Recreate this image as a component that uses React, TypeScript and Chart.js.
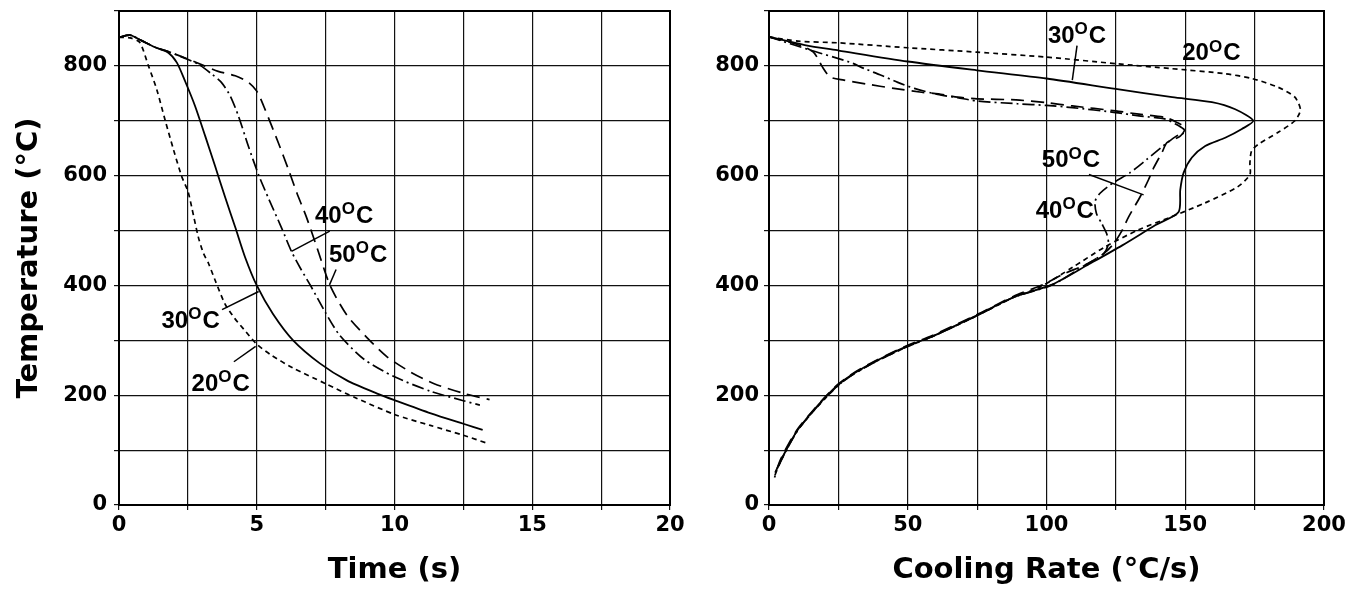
import React, { useEffect, useRef } from 'react';
import { Chart, registerables } from 'chart.js';

Chart.register(...registerables);

// ---------- Left panel: Time (s) vs Temperature (°C) ----------
const time20 = [0, 0.4, 0.75, 1.07, 1.37, 1.67, 1.98, 2.28, 2.5, 2.65, 2.88, 3.07, 3.25, 3.5, 3.85, 4.2, 4.6, 5.0, 5.5, 6.3, 7.5, 8.6, 10.0, 11.3, 12.5, 13.4];
const tempT20 = [852, 851, 843, 800, 757, 702, 647, 598, 572, 540, 488, 458, 440, 408, 366, 340, 316, 293, 274, 250, 221, 195, 165, 145, 127, 112];

const time30 = [0, 0.4, 0.82, 1.31, 1.79, 2.1, 2.4, 2.76, 3.13, 3.49, 3.85, 4.22, 4.58, 5.0, 5.59, 6.32, 7.29, 8.27, 9.37, 10.0, 11.32, 12.5, 13.2];
const tempT30 = [852, 856, 846, 834, 824, 806, 772, 727, 672, 617, 561, 506, 451, 400, 348, 300, 258, 227, 203, 191, 167, 148, 137];

const time40 = [0, 0.4, 0.82, 1.31, 1.79, 2.34, 2.88, 3.37, 3.73, 4.04, 4.34, 4.7, 5.07, 5.45, 5.9, 6.26, 6.6, 6.95, 7.5, 8.0, 8.88, 9.98, 11.32, 12.5, 13.1];
const tempT40 = [852, 856, 846, 834, 826, 815, 803, 785, 769, 745, 708, 653, 601, 556, 505, 462, 430, 400, 350, 310, 266, 234, 207, 190, 182];

const time50 = [0, 0.4, 0.82, 1.31, 1.79, 2.52, 3.1, 3.6, 4.22, 4.7, 5.0, 5.25, 5.79, 6.16, 6.46, 6.8, 7.2, 7.66, 8.27, 9.0, 9.73, 10.59, 11.44, 12.54, 13.45];
const tempT50 = [852, 856, 846, 834, 826, 812, 800, 790, 782, 770, 754, 727, 659, 610, 568, 525, 467, 400, 346, 305, 270, 242, 221, 203, 192];

// ---------- Right panel: Cooling Rate (°C/s) vs Temperature (°C) ----------
const rate20 = [0, 10.5, 25, 50, 75, 100, 125, 145, 164, 174, 183.5, 189.5, 191.5, 189.5, 183.5, 176.3, 173.9, 173.3, 173.3, 169, 157, 145, 133, 121, 109.4, 97.3, 88, 75, 58, 50, 38, 30, 25, 20, 15, 10, 6.5, 3.5, 2];
const tempR20 = [853, 845, 842, 833, 825, 816, 804, 795, 786, 777, 761, 743, 720, 700, 679, 657, 645, 623, 602, 580, 550, 525, 501, 470, 433, 396, 378, 345, 305, 289, 260, 237, 218, 193, 165, 134, 103, 72, 52];

const rate30 = [0, 12.9, 25.1, 50, 74.9, 100, 124.9, 145.3, 159.6, 168, 174.5, 170.4, 164.4, 157.2, 152.4, 149.4, 148.2, 147.6, 139.3, 127.3, 115.4, 102.2, 88.3, 75.1, 58.4, 50, 38, 29.7, 24.9, 20.1, 15.3, 10.5, 6.9, 3.9, 2.2];
const tempR30 = [853, 838, 828, 808, 792, 777, 758, 743, 734, 721, 700, 685, 669, 654, 633, 605, 574, 534, 510, 473, 439, 402, 379, 346, 306, 290, 261, 237, 219, 195, 168, 138, 107, 77, 59];

const rate40 = [0, 15.3, 29, 34.4, 40.4, 46.4, 52.4, 60.8, 68, 75, 89.5, 100, 109.3, 124.9, 133.3, 142.9, 146.5, 149.4, 150, 146.8, 142, 136, 130, 124, 119.3, 117.5, 118, 119.9, 121.7, 122.3, 120.6, 114.6, 102, 88, 75, 58, 50, 38, 29.7, 24.9, 20.1, 15.3, 10.5, 6.9, 3.9, 2.2];
const tempR40 = [853, 828, 807, 795, 783, 770, 759, 748, 742, 736, 731, 728, 724, 715, 709, 703, 694, 685, 679, 672, 654, 629, 605, 587, 568, 553, 531, 513, 494, 476, 458, 439, 401, 378, 345, 305, 289, 260, 236, 218, 194, 167, 137, 106, 76, 57];

const rate50 = [0, 12, 16, 18, 19, 22, 27, 35, 45, 55, 61, 68, 75, 89, 100, 109.3, 124.9, 133.3, 142.9, 147, 150, 148.2, 143.4, 141.6, 138.6, 136.8, 133.8, 129.6, 127.2, 124.2, 120.6, 114.6, 106.2, 99, 88, 75, 58, 50, 38, 29.7, 24.9, 20.1, 15.3, 10.5, 6.9, 3.9, 2];
const tempR50 = [853, 836, 825, 810, 800, 780, 774, 767, 759, 752, 749, 743, 740, 738, 733, 727, 718, 712, 706, 697, 687, 672, 660, 642, 614, 593, 562, 525, 500, 476, 458, 439, 421, 402, 380, 347, 307, 291, 262, 238, 220, 196, 169, 140, 110, 80, 50];

// ---------- Curve labels (bath temperatures) ----------
const leftLabelText = ['20', '30', '40', '50'];
const leftLabelX = [3.69, 2.6, 8.17, 8.68];
const leftLabelY = [220, 335, 526, 454];
const leftLeaderX1 = [4.17, 3.74, 6.26, 7.88];
const leftLeaderY1 = [261, 356, 462, 429];
const leftLeaderX2 = [4.96, 5.07, 7.65, 7.64];
const leftLeaderY2 = [289, 389, 499, 401];

const rightLabelText = ['20', '30', '40', '50'];
const rightLabelX = [159.4, 111, 106.6, 108.8];
const rightLabelY = [822, 853, 535, 627];
const rightLeaderX1 = [NaN, 111, NaN, 115.3];
const rightLeaderY1 = [NaN, 837, NaN, 602];
const rightLeaderX2 = [NaN, 109.3, NaN, 135];
const rightLeaderY2 = [NaN, 774, NaN, 565];

// ---------- Axis settings ----------
const tempMax = 900;
const tempStep = 100;
const tempLabelEvery = 200;
const timeMax = 20;
const timeStep = 2.5;
const timeLabelEvery = 5;
const rateMax = 200;
const rateStep = 25;
const rateLabelEvery = 50;

const TICK_FONT = { family: '"DejaVu Sans", "Liberation Sans", Arial, sans-serif', weight: 'bold' as const, size: 21 };
const TITLE_FONT = { family: '"DejaVu Sans", "Liberation Sans", Arial, sans-serif', weight: 'bold' as const, size: 29 };

const styles = [
  { borderDash: [5, 4], borderWidth: 1.7 }, // 20 °C
  { borderDash: [], borderWidth: 1.8 }, // 30 °C
  { borderDash: [12, 4, 2, 4], borderWidth: 1.7 }, // 40 °C
  { borderDash: [13, 7], borderWidth: 1.7 }, // 50 °C
];

function toPoints(xs: number[], ys: number[]) {
  return xs.map((x, i) => ({ x, y: ys[i] }));
}

function drawCurveLabel(ctx: CanvasRenderingContext2D, text: string, x: number, y: number) {
  const big = 'bold 24px "Liberation Sans", Arial, sans-serif';
  const small = 'bold 17px "Liberation Sans", Arial, sans-serif';
  ctx.save();
  ctx.fillStyle = '#000';
  ctx.textBaseline = 'middle';
  ctx.textAlign = 'left';
  ctx.font = big;
  const w1 = ctx.measureText(text).width;
  const w3 = ctx.measureText('C').width;
  ctx.font = small;
  const w2 = ctx.measureText('O').width;
  const total = w1 + w2 + w3 + 1;
  let cx = x - total / 2;
  ctx.font = big;
  ctx.fillText(text, cx, y);
  cx += w1;
  ctx.font = small;
  ctx.fillText('O', cx, y - 7);
  cx += w2 + 1;
  ctx.font = big;
  ctx.fillText('C', cx, y);
  ctx.restore();
}

function makeDecorPlugin(
  texts: string[], lx: number[], ly: number[],
  x1: number[], y1: number[], x2: number[], y2: number[]
) {
  return {
    id: 'decor',
    afterDatasetsDraw(chart: any) {
      const { ctx, chartArea, scales } = chart;
      const xs = scales.x;
      const ys = scales.y;
      ctx.save();
      ctx.strokeStyle = '#000';
      ctx.lineWidth = 2;
      ctx.strokeRect(chartArea.left, chartArea.top, chartArea.right - chartArea.left, chartArea.bottom - chartArea.top);
      ctx.lineWidth = 1.5;
      ctx.setLineDash([]);
      for (let i = 0; i < texts.length; i++) {
        if (!isNaN(x1[i])) {
          ctx.beginPath();
          ctx.moveTo(xs.getPixelForValue(x1[i]), ys.getPixelForValue(y1[i]));
          ctx.lineTo(xs.getPixelForValue(x2[i]), ys.getPixelForValue(y2[i]));
          ctx.stroke();
        }
      }
      ctx.restore();
      for (let i = 0; i < texts.length; i++) {
        drawCurveLabel(ctx, texts[i], xs.getPixelForValue(lx[i]), ys.getPixelForValue(ly[i]));
      }
    },
  };
}

function buildConfig(
  series: { xs: number[]; ys: number[] }[],
  xMax: number, xStep: number, xLabelEvery: number, xTitle: string,
  showYTitle: boolean, yAxisWidth: number, rightPad: number, yTickPad: number,
  plugin: any
) {
  return {
    type: 'scatter' as const,
    data: {
      datasets: series.map((s, i) => ({
        data: toPoints(s.xs, s.ys),
        showLine: true,
        borderColor: '#000',
        backgroundColor: '#000',
        borderWidth: styles[i].borderWidth,
        borderDash: styles[i].borderDash,
        pointRadius: 0,
        tension: 0.25,
        fill: false,
      })),
    },
    options: {
      animation: false,
      responsive: false,
      devicePixelRatio: 1,
      events: [],
      layout: { padding: { left: 0, right: rightPad, top: 11, bottom: 0 } },
      plugins: { legend: { display: false }, tooltip: { enabled: false } },
      scales: {
        x: {
          type: 'linear',
          min: 0,
          max: xMax,
          grid: { color: '#111', lineWidth: 1.2, tickLength: 5, drawTicks: true },
          border: { color: '#000', width: 2 },
          ticks: {
            stepSize: xStep,
            autoSkip: false,
            maxRotation: 0,
            padding: 3,
            color: '#000',
            font: TICK_FONT,
            callback: (v: any) => (Math.abs(v % xLabelEvery) < 1e-9 ? String(v) : ''),
          },
          title: { display: true, text: xTitle, color: '#000', font: TITLE_FONT, padding: { top: 0, bottom: 5 } },
          afterFit: (s: any) => { s.height = 88; s.paddingLeft = 0; s.paddingRight = 0; },
        },
        y: {
          type: 'linear',
          min: 0,
          max: tempMax,
          grid: { color: '#111', lineWidth: 1.2, tickLength: 5, drawTicks: true },
          border: { color: '#000', width: 2 },
          ticks: {
            stepSize: tempStep,
            autoSkip: false,
            padding: yTickPad,
            color: '#000',
            font: TICK_FONT,
            callback: (v: any) => (v % tempLabelEvery === 0 ? String(v) : ''),
          },
          title: { display: showYTitle, text: 'Temperature (°C)', color: '#000', font: TITLE_FONT, padding: { top: 12, bottom: 0 } },
          afterFit: (s: any) => { s.width = yAxisWidth; s.paddingTop = 0; s.paddingBottom = 0; },
        },
      },
    },
    plugins: [plugin],
  };
}

function ChartPanel(props: { config: any; width: number; height: number; left: number }) {
  const ref = useRef<HTMLCanvasElement | null>(null);
  useEffect(() => {
    if (!ref.current) return;
    const chart = new Chart(ref.current, props.config);
    return () => chart.destroy();
  }, []);
  return (
    <canvas
      ref={ref}
      width={props.width}
      height={props.height}
      style={{ position: 'absolute', left: props.left, top: 0, width: props.width, height: props.height }}
    />
  );
}

export default function App() {
  const leftConfig = buildConfig(
    [
      { xs: time20, ys: tempT20 },
      { xs: time30, ys: tempT30 },
      { xs: time40, ys: tempT40 },
      { xs: time50, ys: tempT50 },
    ],
    timeMax, timeStep, timeLabelEvery, 'Time (s)',
    true, 119, 20, 7,
    makeDecorPlugin(leftLabelText, leftLabelX, leftLabelY, leftLeaderX1, leftLeaderY1, leftLeaderX2, leftLeaderY2)
  );
  const rightConfig = buildConfig(
    [
      { xs: rate20, ys: tempR20 },
      { xs: rate30, ys: tempR30 },
      { xs: rate40, ys: tempR40 },
      { xs: rate50, ys: tempR50 },
    ],
    rateMax, rateStep, rateLabelEvery, 'Cooling Rate (°C/s)',
    false, 79, 35, 5,
    makeDecorPlugin(rightLabelText, rightLabelX, rightLabelY, rightLeaderX1, rightLeaderY1, rightLeaderX2, rightLeaderY2)
  );
  return (
    <div style={{ position: 'absolute', left: 0, top: 0, width: 1359, height: 593, background: '#fff', overflow: 'hidden' }}>
      <ChartPanel config={leftConfig} width={690} height={593} left={0} />
      <ChartPanel config={rightConfig} width={669} height={593} left={690} />
    </div>
  );
}
